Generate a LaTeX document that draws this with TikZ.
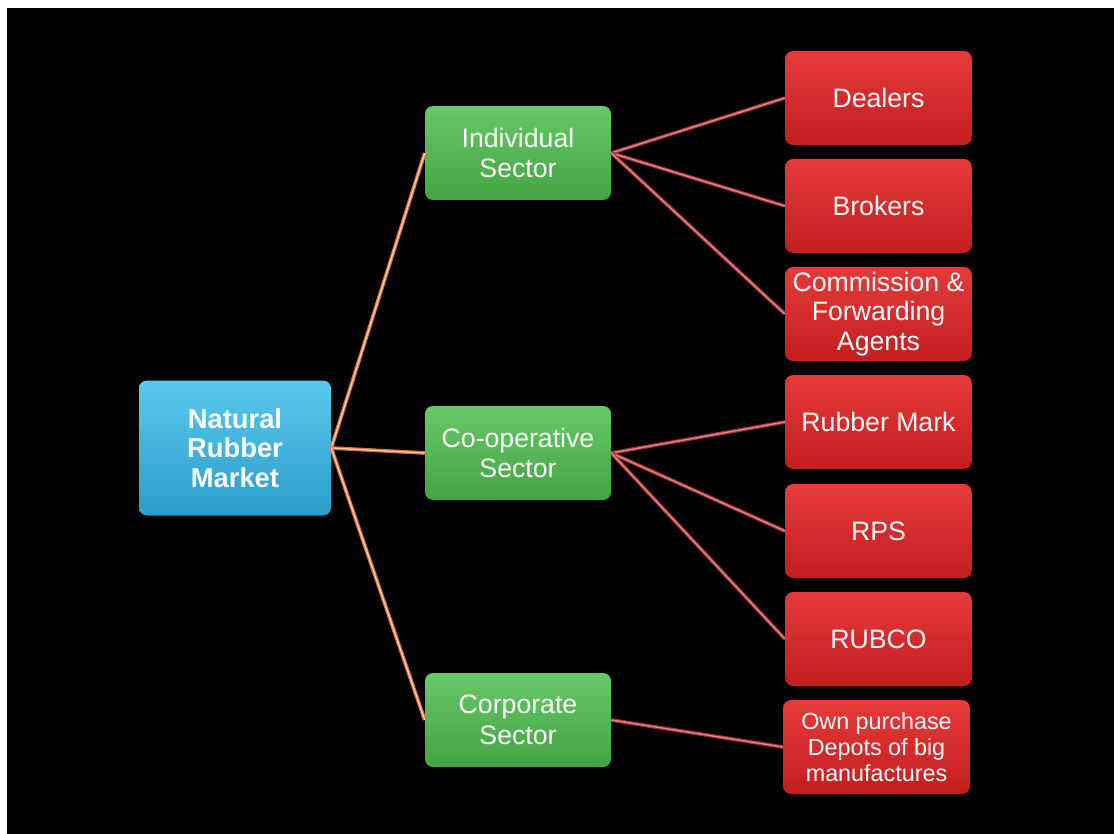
\documentclass[tikz,border=0pt]{standalone}
\usepackage{fontspec}
\setmainfont{Liberation Sans}
\definecolor{rootTop}{HTML}{58C9EE}
\definecolor{rootBot}{HTML}{2C9CCB}
\definecolor{secTop}{HTML}{66C866}
\definecolor{secBot}{HTML}{42A542}
\definecolor{leafTop}{HTML}{E63A3A}
\definecolor{leafBot}{HTML}{C21E1E}
\definecolor{linkOrange}{HTML}{D8703E}
\definecolor{linkOrangeIn}{HTML}{F6CDAA}
\definecolor{linkRed}{HTML}{A83036}
\definecolor{linkRedIn}{HTML}{D98A8A}
\tikzset{
  box/.style={rectangle, rounded corners=6pt, align=center, text=white,
    font=\fontsize{20}{23}\selectfont, inner sep=2pt},
  rootbox/.style={box, top color=rootTop, bottom color=rootBot,
    minimum width=144pt, minimum height=101.25pt, font=\bfseries\fontsize{20.5}{22}\selectfont},
  secbox/.style={box, top color=secTop, bottom color=secBot,
    minimum width=139.5pt, minimum height=70.5pt},
  leafbox/.style={box, top color=leafTop, bottom color=leafBot,
    minimum width=140pt, minimum height=70.5pt},
  smallleaf/.style={leafbox, font=\fontsize{17.5}{19.5}\selectfont},
  orangelink/.style={draw=linkOrange, double=linkOrangeIn, line width=0.9pt, double distance=1pt},
  redlink/.style={draw=linkRed, double=linkRedIn, line width=0.9pt, double distance=1pt},
}
\begin{document}
\begin{tikzpicture}[x=0.75pt, y=-0.75pt]
  % page and dark slide area
  \fill[white] (0,0) rectangle (1114,834);
  \fill[black] (7,8) rectangle (1114,834);
  \useasboundingbox (0,0) rectangle (1114,834);

  % root
  \node[rootbox] (root) at (235,448) {Natural\\Rubber\\Market};

  % sectors
  \node[secbox] (ind)  at (518,153) {Individual\\Sector};
  \node[secbox] (coop) at (518,453) {Co-operative\\Sector};
  \node[secbox] (corp) at (518,720) {Corporate\\Sector};

  % channels
  \node[leafbox] (deal) at (878.5,98)  {Dealers};
  \node[leafbox] (brok) at (878.5,206) {Brokers};
  \node[leafbox, font=\fontsize{20}{22}\selectfont] (comm) at (878.5,314) {Commission \&\\Forwarding\\Agents};
  \node[leafbox] (mark) at (878.5,422) {Rubber Mark};
  \node[leafbox] (rps)  at (878.5,531) {RPS};
  \node[leafbox] (rub)  at (878.5,639) {RUBCO};
  \node[smallleaf] (own) at (876.5,747) {Own purchase\\Depots of big\\manufactures};

  % connectors
  \draw[orangelink] (root.east) -- (ind.west);
  \draw[orangelink] (root.east) -- (coop.west);
  \draw[orangelink] (root.east) -- (corp.west);

  \draw[redlink] (ind.east) -- (deal.west);
  \draw[redlink] (ind.east) -- (brok.west);
  \draw[redlink] (ind.east) -- (comm.west);
  \draw[redlink] (coop.east) -- (mark.west);
  \draw[redlink] (coop.east) -- (rps.west);
  \draw[redlink] (coop.east) -- (rub.west);
  \draw[redlink] (corp.east) -- (own.west);
\end{tikzpicture}
\end{document}
